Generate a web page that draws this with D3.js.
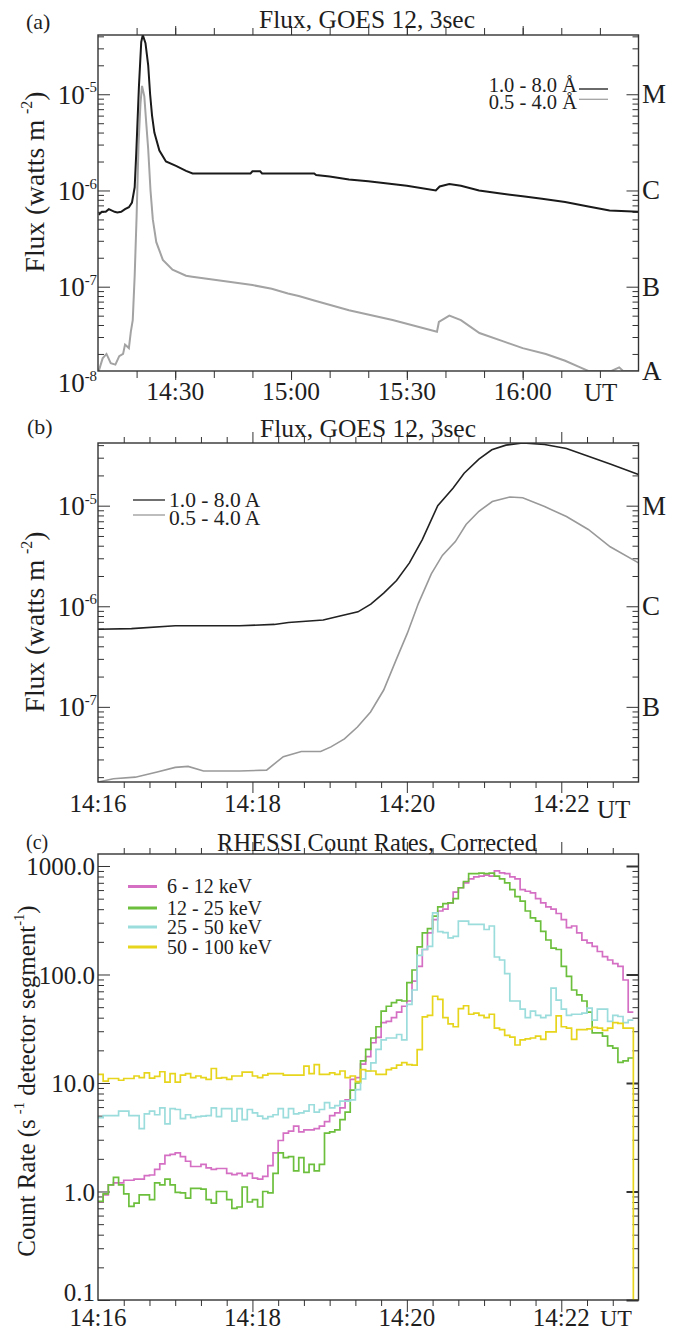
<!DOCTYPE html>
<html><head><meta charset="utf-8">
<script src="https://cdn.jsdelivr.net/npm/d3@7"></script>
<style>
body{margin:0;background:#fff}
svg{display:block}
text{font-family:"Liberation Serif","Times New Roman",serif;fill:#1e1e1e}
</style>
</head><body>
<svg id="chart" width="685" height="1332"></svg>
<script>
// ---------------- DATA ----------------
// Panel (a): GOES 12 flux, time in minutes after 14:00 UT
const aLongT = [10.2,11,12,12.8,13.5,14.3,15,16,17,18,18.8,19.5,19.9,20.6,21.2,21.6,22.3,23.0,23.5,24.0,24.6,25.9,27.6,30.2,32.8,34.5,49.5,50,52,52.5,66,66.5,70,75,80,85,90,97.5,98.5,101,104,108.7,114.3,120,125,131,137,142.5,150];
const aLongF = [5.6e-7,6.0e-7,6.0e-7,6.4e-7,6.2e-7,6.0e-7,5.9e-7,6.0e-7,6.4e-7,6.7e-7,7.5e-7,1.08e-6,2.4e-6,1.2e-5,3.5e-5,4.2e-5,3.4e-5,2.0e-5,1.0e-5,6.0e-6,4.0e-6,2.6e-6,2.0e-6,1.8e-6,1.6e-6,1.5e-6,1.5e-6,1.58e-6,1.58e-6,1.5e-6,1.5e-6,1.45e-6,1.4e-6,1.3e-6,1.25e-6,1.18e-6,1.12e-6,1.0e-6,1.1e-6,1.17e-6,1.12e-6,1.0e-6,9.3e-7,8.7e-7,8.2e-7,7.6e-7,6.8e-7,6.2e-7,6.0e-7];
const aShortT = [10.2,11.2,12.2,13.3,14.5,15.5,16.5,17,18,18.5,19.0,19.5,20.0,20.5,21.0,21.4,22.0,22.5,23.0,23.6,24.2,25.1,26.8,29.3,32.8,34.4,42,50,55,59.2,62,66,75,86.3,97.8,98.3,101,104,108.8,115,120,126,131,134.6,137,143,145,146,150];
const aShortF = [1.33e-8,1.8e-8,2.0e-8,1.6e-8,1.55e-8,1.9e-8,2.0e-8,2.5e-8,2.3e-8,3.4e-8,4.5e-8,1.3e-7,5.4e-7,3.0e-6,8.0e-6,1.22e-5,9.5e-6,5.0e-6,2.7e-6,1.0e-6,5.0e-7,2.9e-7,1.9e-7,1.5e-7,1.3e-7,1.27e-7,1.15e-7,1.04e-7,9.5e-8,8.5e-8,8.0e-8,7.2e-8,5.7e-8,4.5e-8,3.4e-8,4.3e-8,5.0e-8,4.5e-8,3.3e-8,2.7e-8,2.3e-8,2.0e-8,1.7e-8,1.47e-8,1.3e-8,1.3e-8,1.45e-8,1.3e-8,1.3e-8];

// Panel (b): GOES 12 flux, time in seconds after 14:16 UT
const bLongT = [0,26,60,110,137,148,175,188,202,212,222,232,242,252,264,276,284.5,296,306,317,330,347,364,381,398,420];
const bLongF = [5.9e-7,6.0e-7,6.4e-7,6.4e-7,6.6e-7,6.9e-7,7.3e-7,8.0e-7,8.8e-7,1.05e-6,1.35e-6,1.8e-6,2.7e-6,4.6e-6,1.0e-5,1.5e-5,2.1e-5,2.9e-5,3.6e-5,4.0e-5,4.2e-5,4.06e-5,3.7e-5,3.1e-5,2.6e-5,2.04e-5];
const bShortT = [0,12,29,46,60,70,82,110,131,144,158,173,181,191.5,201.6,211.8,222,231.5,240.4,249,259,267.6,277.7,286,296,306.4,320,330,347,364,381,398,420];
const bShortF = [1.79e-8,1.93e-8,2.0e-8,2.25e-8,2.5e-8,2.56e-8,2.3e-8,2.3e-8,2.35e-8,3.2e-8,3.6e-8,3.6e-8,4.0e-8,4.8e-8,6.3e-8,8.9e-8,1.47e-7,2.9e-7,5.4e-7,1.07e-6,2.1e-6,3.2e-6,4.4e-6,6.5e-6,8.8e-6,1.1e-5,1.22e-5,1.2e-5,9.8e-6,7.8e-6,5.8e-6,3.9e-6,2.7e-6];

// Panel (c): RHESSI corrected count rates, 4 s bins starting 14:16:00 UT
const binSeconds = 4;
const rate6_12 = [0.8,0.93,1.15,1.2,1.2,1.27,1.27,1.3,1.3,1.4,1.42,1.6,1.8,2.15,2.2,2.27,2.1,1.9,1.7,1.7,1.78,1.65,1.6,1.63,1.63,1.47,1.43,1.47,1.4,1.47,1.33,1.3,1.38,1.73,2.27,2.95,3.45,3.6,4.0,3.55,3.7,3.7,3.8,4.0,4.4,5.0,5.3,5.9,7.0,10.8,11.2,14.9,17.5,23.5,26.3,36,37,40,45,51,57,87,119,170,242,320,385,400,458,575,630,700,760,795,806,825,806,900,865,850,795,760,605,585,566,500,458,420,400,365,320,270,280,242,207,196,182,163,146,136,126,119,89,45];
const rate12_25 = [0.81,0.95,1.15,1.35,1.15,0.95,0.73,0.78,0.93,0.93,0.84,1.2,1.15,1.3,1.15,0.98,0.97,0.87,1.07,1.07,1.05,0.84,0.78,1.0,1.0,0.84,0.7,0.72,1.1,0.8,0.84,0.72,1.0,0.97,1.47,2.27,2.05,2.1,1.55,2.05,1.5,1.78,1.55,1.78,3.45,3.55,3.7,4.6,5.4,8.6,10,16,20.4,26,33,46,51,55,58,57,84,110,180,242,265,345,420,450,458,500,630,720,850,850,860,850,860,806,760,700,605,523,475,385,333,310,250,208,175,170,119,96,72,65,57,45,29,29,27,22,21,15.5,16,17];
const rate25_50 = [4.8,5.0,5.0,5.0,5.5,5.5,5.0,5.0,3.8,5.2,5.5,5.1,5.9,4.2,5.8,5.7,4.7,5.1,4.8,4.9,4.95,5.0,5.9,4.9,5.8,5.8,4.45,5.8,4.6,5.7,5.3,4.95,4.7,4.9,5.1,5.8,4.8,5.8,5.2,5.3,5.5,6.3,5.4,5.7,6.6,5.9,6.2,6.8,6.8,7.0,8.7,10.9,12.9,15.3,20.4,25,26,26,28,25,53,72,150,170,182,370,248,243,218,225,310,310,290,290,290,260,280,145,136,102,57,57,48,40,46,42,40,42,75,58,48,42,43,43,44,49,38,48,48,37,42,41,36,38];
const rate50_100 = [12.0,10.4,11.0,11.0,10.6,11.0,11.0,11.6,11.2,12.4,11.1,11.5,12.7,10.2,12.2,10.2,11.8,12.2,11.2,11.6,11.2,10.8,13.6,11.1,11.2,10.8,11.6,11.6,12.6,12.6,11.6,11.2,11.8,12.2,12.2,12.2,11.8,11.8,11.8,11.8,14.3,12.2,14.8,12.0,12.0,12.4,12.0,12.9,11.2,11.6,10.3,13.3,12.9,12.9,12.0,12.0,13.3,13.7,14.6,15.4,14.8,14.6,20.3,40.6,42,63,59,40,35,33,48.5,51.5,43,44,42,40,43,32,31,27.5,26.5,22.4,25,25.5,26,27,25.2,29.6,29.6,41.5,33,32,25.2,31,31,31.5,32.5,32,30.5,32,36,35.5,32,32,0.05];

const bandNames = ["6 - 12 keV","12 - 25 keV","25 - 50 keV","50 - 100 keV"];
const bandColors = ["#d46fc4","#6cbf3c","#9bdcdc","#e6d51c"];
const goesNamesA = ["1.0 - 8.0 \u00C5","0.5 - 4.0 \u00C5"];
const goesNamesB = ["1.0 - 8.0 A","0.5 - 4.0 A"];
const goesColors = ["#1a1a1a","#a3a3a3"];
const goesClasses = ["A","B","C","M"];
const goesClassFlux = [1e-8,1e-7,1e-6,1e-5];
const fluxExpA = [-8,-7,-6,-5];
const fluxExpB = [-7,-6,-5];
const timeLabelsA = ["14:30","15:00","15:30","16:00"];
const timeLabelMinA = [30,60,90,120];
const timeLabelsBC = ["14:16","14:18","14:20","14:22"];
const timeLabelSecBC = [0,120,240,360];
const rateTickVals = [0.1,1,10,100,1000];
const rateTickLabels = ["0.1","1.0","10.0","100.0","1000.0"];

// ---------------- LAYOUT ----------------
const svg = d3.select("#chart");
svg.append("rect").attr("width",685).attr("height",1332).attr("fill","#fff");
const L = 98, R = 638.5;
const PA = {top:35, bottom:371}, PB = {top:443, bottom:782}, PC = {top:854, bottom:1300};

const xA = d3.scaleLinear().domain([10,150]).range([L,R]);
const yA = d3.scaleLog().domain([1.33e-8,4.13e-5]).range([PA.bottom,PA.top]).clamp(true);
const yAlab = yA.copy().clamp(false);
const xB = d3.scaleLinear().domain([0,420]).range([L,R]);
const yB = d3.scaleLog().domain([1.79e-8,4.2e-5]).range([PB.bottom,PB.top]).clamp(true);
const yC = d3.scaleLog().domain([0.1,1290]).range([PC.bottom,PC.top]).clamp(true);

function logVals(scale, majorOnly){
  const [lo,hi] = scale.domain(); const out=[];
  for(let d=Math.floor(Math.log10(lo)); d<=Math.ceil(Math.log10(hi)); d++){
    for(let k=1;k<=9;k++){
      if(majorOnly && k!==1) continue;
      if(!majorOnly && k===1) continue;
      const v=k*Math.pow(10,d);
      if(v>=lo*0.9999 && v<=hi*1.0001) out.push(v);
    }
  }
  return out;
}

function axisTicks(g, axisFn, scale, vals, len, pos, width){
  const a = axisFn(scale).tickValues(vals).tickSizeInner(-len).tickSizeOuter(0).tickFormat("");
  const sel = g.append("g").attr("transform", pos).call(a);
  sel.select(".domain").remove();
  sel.selectAll("line").attr("stroke","#333").attr("stroke-width",width||1);
}

function frame(P, id, x, y, xMinor, xMajor, majorWidthRight){
  const g = svg.append("g");
  svg.append("clipPath").attr("id",id).append("rect")
    .attr("x",L).attr("y",P.top).attr("width",R-L).attr("height",P.bottom-P.top);
  axisTicks(g, d3.axisLeft, y, logVals(y,false), 6, `translate(${L},0)`);
  axisTicks(g, d3.axisLeft, y, logVals(y,true), 12, `translate(${L},0)`);
  axisTicks(g, d3.axisRight, y, logVals(y,false), 6, `translate(${R},0)`);
  axisTicks(g, d3.axisRight, y, logVals(y,true), 12, `translate(${R},0)`, majorWidthRight);
  axisTicks(g, d3.axisBottom, x, xMinor.minor, xMinor.len, `translate(0,${P.top})`);
  axisTicks(g, d3.axisTop, x, xMinor.minor, xMinor.len, `translate(0,${P.bottom})`);
  axisTicks(g, d3.axisBottom, x, xMajor.major, xMajor.len, `translate(0,${P.top})`);
  axisTicks(g, d3.axisTop, x, xMajor.major, xMajor.len, `translate(0,${P.bottom})`);
  return g;
}

function drawFrameRect(P){
  svg.append("rect").attr("x",L).attr("y",P.top).attr("width",R-L).attr("height",P.bottom-P.top)
    .attr("fill","none").attr("stroke","#333").attr("stroke-width",1.4);
}

function supText(x, y, parts, fs, anchor, rotate, supScale, supRaise){
  const ss = supScale||0.58, sr = supRaise||0.45;
  const t = svg.append("text").attr("font-size",fs).attr("text-anchor",anchor||"start");
  if(rotate){ t.attr("transform",`translate(${x},${y}) rotate(-90)`); }
  else { t.attr("x",x).attr("y",y); }
  let raised=false;
  parts.forEach(p=>{
    const ts = t.append("tspan").text(p.t);
    if(p.sup){ ts.attr("font-size",fs*ss).attr("dy",-fs*sr); raised=true; }
    else if(raised){ ts.attr("dy",fs*sr); raised=false; }
  });
  return t;
}

function plainText(x,y,str,fs,anchor){
  return svg.append("text").attr("x",x).attr("y",y).attr("font-size",fs)
    .attr("text-anchor",anchor||"start").text(str);
}

// ---------- Panel (a) ----------
const minA = d3.range(20,150,10);
frame(PA,"clipA",xA,yA,{minor:minA,len:7},{major:timeLabelMinA,len:9});
const lineA = d3.line().x(d=>xA(d[0])).y(d=>yA(d[1]));
const gA = svg.append("g").attr("clip-path","url(#clipA)");
gA.append("path").datum(d3.zip(aShortT,aShortF)).attr("d",lineA)
  .attr("fill","none").attr("stroke",goesColors[1]).attr("stroke-width",2);
gA.append("path").datum(d3.zip(aLongT,aLongF)).attr("d",lineA)
  .attr("fill","none").attr("stroke",goesColors[0]).attr("stroke-width",2);
drawFrameRect(PA);
plainText(367,28,"Flux, GOES 12, 3sec",25.5,"middle");
plainText(26,29,"(a)",22);
fluxExpA.forEach(e=>{
  supText(97, yAlab(Math.pow(10,e))+9.5, [{t:"10"},{t:String(e),sup:true}], 27, "end", false, 0.55, 0.42);
});
goesClasses.forEach((c,i)=>{
  plainText(642, yA(goesClassFlux[i])+9, c, 27);
});
timeLabelsA.forEach((s,i)=> plainText(xA(timeLabelMinA[i]), 400, s, 25.5, "middle"));
plainText(584, 401, "UT", 25);
supText(44, 182, [{t:"Flux (watts m\u2009"},{t:"-2",sup:true},{t:")"}], 27.5, "middle", true);
goesNamesA.forEach((n,i)=>{
  plainText(577, 92+i*17, n, 20.5, "end");
  svg.append("line").attr("x1",579).attr("x2",608).attr("y1",89+i*10.3).attr("y2",89+i*10.3)
    .attr("stroke",goesColors[i]).attr("stroke-width",1.3);
});

// ---------- Panel (b) ----------
const secMinor = d3.range(20,420,20).filter(s=>s%120!==0);
frame(PB,"clipB",xB,yB,{minor:secMinor,len:6},{major:[120,240,360],len:11});
const lineB = d3.line().x(d=>xB(d[0])).y(d=>yB(d[1]));
const gB = svg.append("g").attr("clip-path","url(#clipB)");
gB.append("path").datum(d3.zip(bShortT,bShortF)).attr("d",lineB)
  .attr("fill","none").attr("stroke","#999").attr("stroke-width",1.6);
gB.append("path").datum(d3.zip(bLongT,bLongF)).attr("d",lineB)
  .attr("fill","none").attr("stroke","#222").attr("stroke-width",1.6);
drawFrameRect(PB);
plainText(368,437,"Flux, GOES 12, 3sec",25.5,"middle");
plainText(27,434,"(b)",22);
fluxExpB.forEach(e=>{
  supText(97, yB(Math.pow(10,e))+9.5, [{t:"10"},{t:String(e),sup:true}], 27, "end", false, 0.55, 0.42);
});
goesClasses.slice(1).forEach((c,i)=>{
  plainText(642, yB(goesClassFlux[i+1])+9, c, 27);
});
timeLabelsBC.forEach((s,i)=> plainText(xB(timeLabelSecBC[i]), 812, s, 25, "middle"));
plainText(597, 818, "UT", 25);
supText(44, 622, [{t:"Flux (watts m\u2009"},{t:"-2",sup:true},{t:")"}], 27.5, "middle", true);
goesNamesB.forEach((n,i)=>{
  plainText(169, 507+i*17.5, n, 21.5);
  svg.append("line").attr("x1",133).attr("x2",165).attr("y1",500+i*15).attr("y2",500+i*15)
    .attr("stroke",i===0?"#222":"#999").attr("stroke-width",1.3);
});

// ---------- Panel (c) ----------
frame(PC,"clipC",xB,yC,{minor:secMinor,len:6},{major:[120,240,360],len:12},2);
const lineC = d3.line().curve(d3.curveStepAfter).x(d=>xB(d[0])).y(d=>yC(d[1]));
const gC = svg.append("g").attr("clip-path","url(#clipC)");
[rate6_12,rate12_25,rate25_50,rate50_100].forEach((arr,k)=>{
  const pts = arr.map((v,i)=>[i*binSeconds,v]);
  pts.push([arr.length*binSeconds, arr[arr.length-1]]);
  gC.append("path").datum(pts).attr("d",lineC).attr("fill","none")
    .attr("stroke",bandColors[k]).attr("stroke-width",1.7);
});
drawFrameRect(PC);
plainText(377,851,"RHESSI Count Rates, Corrected",24.5,"middle");
plainText(26,849,"(c)",20);
rateTickVals.forEach((v,i)=> plainText(95, Math.min(yC(v)+9.5, PC.bottom+1), rateTickLabels[i], 25, "end"));
timeLabelsBC.forEach((s,i)=> plainText(xB(timeLabelSecBC[i]), 1326, s, 25, "middle"));
plainText(600, 1326, "UT", 24);
supText(35, 1081, [{t:"Count Rate (s\u2009"},{t:"-1",sup:true},{t:" detector segment"},{t:"-1",sup:true},{t:")"}], 25, "middle", true);
bandNames.forEach((n,i)=>{
  const yy = [886.5,908,927,947][i];
  svg.append("line").attr("x1",128).attr("x2",157).attr("y1",yy).attr("y2",yy)
    .attr("stroke",bandColors[i]).attr("stroke-width",3);
  plainText(167, yy+6.5, n, 20);
});
</script>
</body></html>
